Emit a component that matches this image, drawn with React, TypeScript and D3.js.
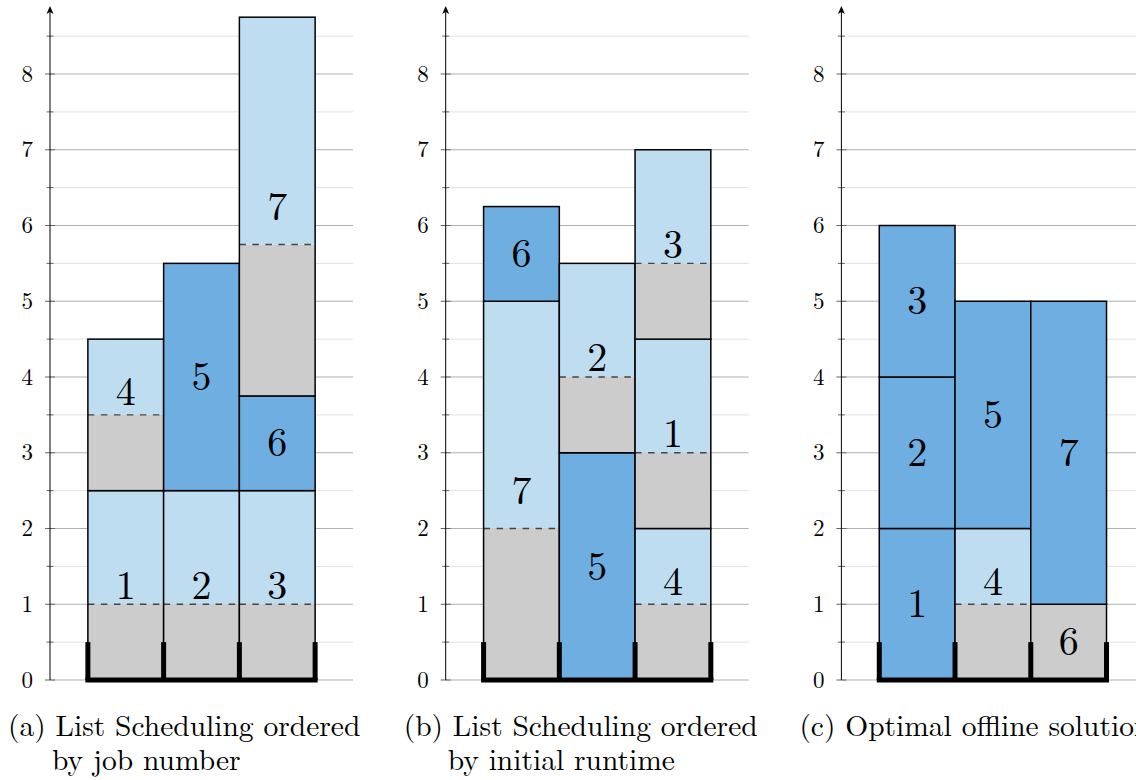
import * as d3 from "d3";

type Job = { job: number; machine: number; grey: number; light: number; dark: number };

// runtime pieces per job, stacked on each machine in list order
const jobsA: Job[] = [
    { job: 1, machine: 0, grey: 1, light: 1.5, dark: 0 },
    { job: 4, machine: 0, grey: 1, light: 1, dark: 0 },
    { job: 2, machine: 1, grey: 1, light: 1.5, dark: 0 },
    { job: 5, machine: 1, grey: 0, light: 0, dark: 3 },
    { job: 3, machine: 2, grey: 1, light: 1.5, dark: 0 },
    { job: 6, machine: 2, grey: 0, light: 0, dark: 1.25 },
    { job: 7, machine: 2, grey: 2, light: 3, dark: 0 },
];
const jobsB: Job[] = [
    { job: 7, machine: 0, grey: 2, light: 3, dark: 0 },
    { job: 6, machine: 0, grey: 0, light: 0, dark: 1.25 },
    { job: 5, machine: 1, grey: 0, light: 0, dark: 3 },
    { job: 2, machine: 1, grey: 1, light: 1.5, dark: 0 },
    { job: 4, machine: 2, grey: 1, light: 1, dark: 0 },
    { job: 1, machine: 2, grey: 1, light: 1.5, dark: 0 },
    { job: 3, machine: 2, grey: 1, light: 1.5, dark: 0 },
];
const jobsC: Job[] = [
    { job: 1, machine: 0, grey: 0, light: 0, dark: 2 },
    { job: 2, machine: 0, grey: 0, light: 0, dark: 2 },
    { job: 3, machine: 0, grey: 0, light: 0, dark: 2 },
    { job: 4, machine: 1, grey: 1, light: 1, dark: 0 },
    { job: 5, machine: 1, grey: 0, light: 0, dark: 3 },
    { job: 6, machine: 2, grey: 1, light: 0, dark: 0 },
    { job: 7, machine: 2, grey: 0, light: 0, dark: 4 },
];
const panels = [jobsA, jobsB, jobsC];
const captionTags = ["(a)", "(b)", "(c)"];
const captionLines = [
    ["List Scheduling ordered", "by job number"],
    ["List Scheduling ordered", "by initial runtime"],
    ["Optimal offline solution"],
];
const majorTicks = d3.range(0, 9);
const minorTicks = d3.range(0, 9, 0.5);
const machines = 3;

const GREY = "#cccccc";
const LIGHT = "#bfddf1";
const DARK = "#6faee0";
const FONT = `"Latin Modern Roman", "Liberation Serif", serif`;

const Panel: React.FC<{ jobs: Job[]; axisX: number; idx: number }> = ({ jobs, axisX, idx }) => {
    const y = d3.scaleLinear([0, 8], [680, 74]);
    const unit = y(0) - y(1);
    const x = d3.scaleLinear([0, 4], [axisX, axisX + 4 * unit]);
    const tops = new Array(machines).fill(0);
    const placed = jobs.map((j) => {
        const start = tops[j.machine];
        const total = j.grey + j.light + j.dark;
        tops[j.machine] += total;
        const center = start + total / 2;
        const dashed = start + j.grey;
        const labelY = j.light > 0 && center - dashed < 0.2 ? dashed + 0.3 : center;
        return { ...j, start, total, labelY };
    });
    const x0 = (m: number) => x(m + 0.5);
    const x1 = (m: number) => x(m + 1.5);
    return (
        <g>
            {minorTicks.map((t) => (
                <line key={"g" + t} x1={x(0)} x2={x(4)} y1={y(t)} y2={y(t)}
                    stroke={t % 1 === 0 ? "#b0b0b0" : "#e0e0e0"} strokeWidth={1} />
            ))}
            {placed.map((j) => (
                <g key={"j" + j.job}>
                    {j.grey > 0 && <rect x={x0(j.machine)} width={x1(j.machine) - x0(j.machine)}
                        y={y(j.start + j.grey)} height={y(j.start) - y(j.start + j.grey)} fill={GREY} />}
                    {j.light > 0 && <rect x={x0(j.machine)} width={x1(j.machine) - x0(j.machine)}
                        y={y(j.start + j.grey + j.light)} height={y(j.start + j.grey) - y(j.start + j.grey + j.light)} fill={LIGHT} />}
                    {j.dark > 0 && <rect x={x0(j.machine)} width={x1(j.machine) - x0(j.machine)}
                        y={y(j.start + j.total)} height={y(j.start) - y(j.start + j.total)} fill={DARK} />}
                    {j.grey > 0 && j.light > 0 && <line x1={x0(j.machine)} x2={x1(j.machine)}
                        y1={y(j.start + j.grey)} y2={y(j.start + j.grey)} stroke="#444" strokeWidth={1.4} strokeDasharray="6.5,6.5" />}
                    <rect x={x0(j.machine)} width={x1(j.machine) - x0(j.machine)}
                        y={y(j.start + j.total)} height={y(j.start) - y(j.start + j.total)}
                        fill="none" stroke="#000" strokeWidth={1.5} />
                    <text x={(x0(j.machine) + x1(j.machine)) / 2} y={y(j.labelY)} dy="0.33em"
                        textAnchor="middle" style={{ fontFamily: FONT }} fontSize={40}>{j.job}</text>
                </g>
            ))}
            {/* machine base */}
            <line x1={x0(0) - 2.5} x2={x1(machines - 1) + 2.5} y1={y(0)} y2={y(0)} stroke="#000" strokeWidth={5} />
            {d3.range(machines + 1).map((m) => (
                <line key={"b" + m} x1={x0(m)} x2={x0(m)} y1={y(0)} y2={y(0.5)} stroke="#000" strokeWidth={5} />
            ))}
            {/* y axis */}
            {minorTicks.map((t) => (
                <line key={"t" + t} x1={axisX - (t % 1 === 0 ? 5 : 3.5)} x2={axisX + (t % 1 === 0 ? 5 : 3.5)}
                    y1={y(t)} y2={y(t)} stroke="#666" strokeWidth={1} />
            ))}
            <line x1={axisX} x2={axisX} y1={y(0)} y2={12} stroke="#000" strokeWidth={1} />
            <path d={`M${axisX},6 L${axisX - 3.5},14 L${axisX},12 L${axisX + 3.5},14 Z`} fill="#000" />
            {majorTicks.map((t) => (
                <text key={"l" + t} x={axisX - 17} y={y(t)} dy="0.33em" textAnchor="end"
                    style={{ fontFamily: FONT }} fontSize={23}>{t}</text>
            ))}
            {captionLines[idx].map((s, i) => (
                <text key={"c" + i} x={i === 0 ? axisX - 42 : axisX + 2} y={736 + i * 34}
                    style={{ fontFamily: FONT }} fontSize={29.5}>{i === 0 ? `${captionTags[idx]} ${s}` : s}</text>
            ))}
        </g>
    );
};

const axisPositions = [50, 445.7, 841.4];

export default function App() {
    return (
        <svg width={1136} height={780} style={{ position: "absolute", left: 0, top: 0, background: "#fff" }}>
            {panels.map((jobs, i) => (
                <Panel key={i} jobs={jobs} axisX={axisPositions[i]} idx={i} />
            ))}
        </svg>
    );
}
